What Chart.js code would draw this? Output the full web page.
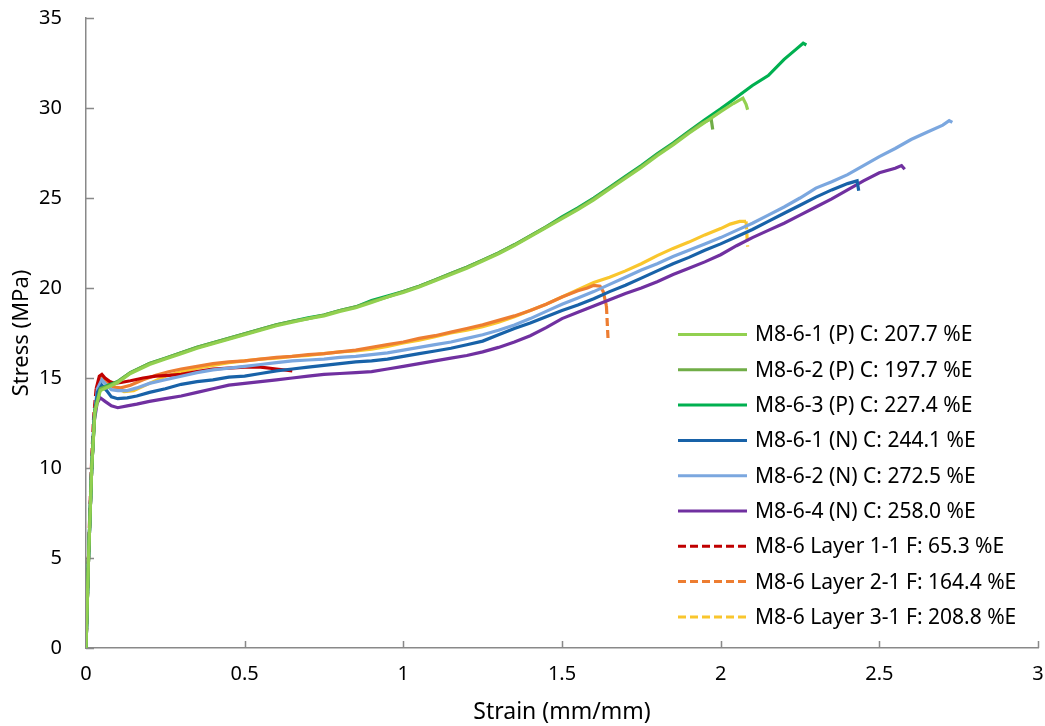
<!DOCTYPE html>
<html>
<head>
<meta charset="utf-8">
<script src="https://cdn.jsdelivr.net/npm/chart.js@4.4.1/dist/chart.umd.min.js"></script>
<style>
  html, body { margin: 0; padding: 0; background: #fff; }
  #chart { display: block; }
</style>
</head>
<body>
<canvas id="chart" width="1045" height="726"></canvas>
<script>
// tick values
const strainTicks = [0, 0.5, 1, 1.5, 2, 2.5, 3];
const stressTicks = [0, 5, 10, 15, 20, 25, 30, 35];

// series labels
const seriesLabels = [
    "M8-6-1 (P) C: 207.7 %E",
    "M8-6-2 (P) C: 197.7 %E",
    "M8-6-3 (P) C: 227.4 %E",
    "M8-6-1 (N) C: 244.1 %E",
    "M8-6-2 (N) C: 272.5 %E",
    "M8-6-4 (N) C: 258.0 %E",
    "M8-6 Layer 1-1 F: 65.3 %E",
    "M8-6 Layer 2-1 F: 164.4 %E",
    "M8-6 Layer 3-1 F: 208.8 %E"
];

// [strain, stress]
const p1 = [[0,0],[0.008,5],[0.018,10],[0.028,13.1],[0.045,14.3],[0.07,14.5],[0.1,14.75],[0.14,15.25],[0.2,15.75],[0.25,16.05],
    [0.3,16.35],[0.35,16.65],[0.4,16.9],[0.45,17.15],[0.5,17.4],[0.55,17.65],[0.6,17.9],[0.65,18.1],[0.7,18.3],[0.75,18.45],
    [0.8,18.7],[0.85,18.9],[0.9,19.2],[0.95,19.5],[1.0,19.75],[1.05,20.05],[1.1,20.4],[1.15,20.75],[1.2,21.1],[1.25,21.5],
    [1.3,21.9],[1.35,22.35],[1.4,22.85],[1.45,23.35],[1.5,23.85],[1.55,24.35],[1.6,24.9],[1.65,25.5],[1.7,26.1],[1.75,26.7],
    [1.8,27.35],[1.85,27.95],[1.9,28.6],[1.95,29.2],[2.0,29.8],[2.04,30.25],[2.07,30.55],[2.08,30.2],[2.085,29.9]];
const p2 = [[0,0],[0.008,5],[0.018,10],[0.028,13.2],[0.045,14.4],[0.07,14.55],[0.1,14.8],[0.14,15.3],[0.2,15.8],[0.25,16.1],
    [0.3,16.4],[0.35,16.7],[0.4,16.95],[0.45,17.2],[0.5,17.45],[0.55,17.7],[0.6,17.95],[0.65,18.15],[0.7,18.3],[0.75,18.5],
    [0.8,18.75],[0.85,18.95],[0.9,19.25],[0.95,19.5],[1.0,19.8],[1.05,20.1],[1.1,20.45],[1.15,20.8],[1.2,21.15],[1.25,21.55],
    [1.3,21.95],[1.35,22.4],[1.4,22.9],[1.45,23.4],[1.5,23.9],[1.55,24.4],[1.6,24.95],[1.65,25.55],[1.7,26.15],[1.75,26.75],
    [1.8,27.4],[1.85,28.0],[1.9,28.65],[1.94,29.15],[1.97,29.4],[1.975,28.8]];
const p3 = [[0,0],[0.008,5],[0.018,10],[0.028,13.2],[0.045,14.4],[0.07,14.6],[0.1,14.8],[0.14,15.3],[0.2,15.8],[0.25,16.1],
    [0.3,16.4],[0.35,16.7],[0.4,16.95],[0.45,17.2],[0.5,17.45],[0.55,17.7],[0.6,17.95],[0.65,18.15],[0.7,18.35],[0.75,18.5],
    [0.8,18.75],[0.85,18.95],[0.9,19.3],[0.95,19.55],[1.0,19.8],[1.05,20.1],[1.1,20.45],[1.15,20.8],[1.2,21.15],[1.25,21.55],
    [1.3,21.95],[1.35,22.4],[1.4,22.9],[1.45,23.4],[1.5,23.95],[1.55,24.45],[1.6,25.0],[1.65,25.6],[1.7,26.2],[1.75,26.8],
    [1.8,27.45],[1.85,28.05],[1.9,28.7],[1.95,29.35],[2.0,29.95],[2.05,30.6],[2.1,31.25],[2.15,31.8],[2.2,32.7],[2.24,33.3],
    [2.26,33.6],[2.27,33.5]];
const n1 = [[0,0],[0.008,5],[0.018,10],[0.026,12.8],[0.036,14.2],[0.05,14.6],[0.065,14.3],[0.08,13.95],[0.1,13.85],[0.13,13.9],
    [0.16,14.0],[0.2,14.2],[0.25,14.4],[0.3,14.65],[0.35,14.8],[0.4,14.9],[0.45,15.05],[0.5,15.1],[0.55,15.25],[0.6,15.4],
    [0.65,15.5],[0.7,15.6],[0.75,15.7],[0.8,15.8],[0.85,15.9],[0.9,15.95],[0.95,16.05],[1.0,16.2],[1.05,16.35],[1.1,16.5],
    [1.15,16.65],[1.2,16.85],[1.25,17.05],[1.3,17.4],[1.35,17.75],[1.4,18.05],[1.45,18.4],[1.5,18.75],[1.55,19.05],[1.6,19.4],
    [1.65,19.8],[1.7,20.15],[1.75,20.55],[1.8,20.95],[1.85,21.35],[1.9,21.7],[1.95,22.1],[2.0,22.45],[2.05,22.85],[2.1,23.25],
    [2.15,23.7],[2.2,24.15],[2.25,24.6],[2.3,25.05],[2.35,25.45],[2.4,25.8],[2.43,25.95],[2.435,25.4]];
const n2 = [[0,0],[0.008,5],[0.018,10],[0.026,12.9],[0.036,14.4],[0.05,14.9],[0.065,14.6],[0.08,14.35],[0.1,14.3],[0.13,14.3],
    [0.16,14.45],[0.2,14.7],[0.25,14.9],[0.3,15.1],[0.35,15.3],[0.4,15.45],[0.45,15.55],[0.5,15.65],[0.55,15.75],[0.6,15.85],
    [0.65,15.95],[0.7,16.0],[0.75,16.05],[0.8,16.15],[0.85,16.2],[0.9,16.3],[0.95,16.4],[1.0,16.55],[1.05,16.7],[1.1,16.85],
    [1.15,17.0],[1.2,17.2],[1.25,17.4],[1.3,17.65],[1.35,17.95],[1.4,18.3],[1.45,18.7],[1.5,19.1],[1.55,19.45],[1.6,19.8],
    [1.65,20.2],[1.7,20.6],[1.75,21.0],[1.8,21.35],[1.85,21.75],[1.9,22.1],[1.95,22.45],[2.0,22.8],[2.05,23.2],[2.1,23.6],
    [2.15,24.05],[2.2,24.5],[2.25,25.0],[2.3,25.55],[2.35,25.9],[2.4,26.3],[2.45,26.8],[2.5,27.3],[2.55,27.75],[2.6,28.25],
    [2.65,28.65],[2.7,29.05],[2.72,29.3],[2.73,29.2]];
const n4 = [[0,0],[0.008,5],[0.018,10],[0.026,12.6],[0.035,13.6],[0.045,13.9],[0.06,13.7],[0.08,13.45],[0.1,13.35],[0.13,13.45],
    [0.16,13.55],[0.2,13.7],[0.25,13.85],[0.3,14.0],[0.35,14.2],[0.4,14.4],[0.45,14.6],[0.5,14.7],[0.55,14.8],[0.6,14.9],
    [0.65,15.0],[0.7,15.1],[0.75,15.2],[0.8,15.25],[0.85,15.3],[0.9,15.35],[0.95,15.5],[1.0,15.65],[1.05,15.8],[1.1,15.95],
    [1.15,16.1],[1.2,16.25],[1.25,16.45],[1.3,16.7],[1.35,17.0],[1.4,17.35],[1.45,17.8],[1.5,18.3],[1.55,18.65],[1.6,19.0],
    [1.65,19.35],[1.7,19.7],[1.75,20.0],[1.8,20.35],[1.85,20.75],[1.9,21.1],[1.95,21.45],[2.0,21.85],[2.05,22.35],[2.1,22.8],
    [2.15,23.2],[2.2,23.6],[2.25,24.05],[2.3,24.5],[2.35,24.95],[2.4,25.45],[2.45,25.95],[2.5,26.4],[2.55,26.65],[2.57,26.8],
    [2.58,26.6]];
const layer1 = [[0,0],[0.006,4],[0.012,7.5],[0.018,10.5],[0.024,12.8],[0.032,14.4],[0.042,15.1],[0.05,15.2],[0.06,15.0],[0.075,14.8],
    [0.09,14.7],[0.11,14.75],[0.14,14.85],[0.18,15.0],[0.22,15.1],[0.26,15.15],[0.3,15.2],[0.35,15.35],[0.4,15.5],[0.45,15.55],
    [0.5,15.6],[0.55,15.6],[0.6,15.5],[0.65,15.4]];
const layer2 = [[0,0],[0.008,5],[0.018,10],[0.026,12.9],[0.036,14.5],[0.05,15.0],[0.065,14.8],[0.085,14.5],[0.11,14.45],[0.14,14.6],
    [0.18,14.9],[0.22,15.15],[0.26,15.35],[0.3,15.5],[0.35,15.65],[0.4,15.8],[0.45,15.9],[0.5,15.95],[0.55,16.05],[0.6,16.15],
    [0.65,16.2],[0.7,16.3],[0.75,16.35],[0.8,16.45],[0.85,16.55],[0.9,16.7],[0.95,16.85],[1.0,17.0],[1.05,17.2],[1.1,17.35],
    [1.15,17.55],[1.2,17.75],[1.25,17.95],[1.3,18.2],[1.35,18.45],[1.4,18.75],[1.45,19.1],[1.5,19.5],[1.55,19.85],[1.58,20.0],
    [1.6,20.15],[1.62,20.1],[1.63,19.8],[1.64,19.0],[1.645,17.2]];
const layer3 = [[0,0],[0.008,5],[0.018,10],[0.026,12.9],[0.036,14.5],[0.055,15.0],[0.07,14.85],[0.09,14.5],[0.12,14.25],[0.15,14.3],
    [0.2,14.7],[0.25,15.1],[0.3,15.35],[0.35,15.55],[0.4,15.7],[0.45,15.85],[0.5,15.95],[0.55,16.05],[0.6,16.1],[0.65,16.2],
    [0.7,16.25],[0.75,16.35],[0.8,16.45],[0.85,16.5],[0.9,16.6],[0.95,16.75],[1.0,16.95],[1.05,17.1],[1.1,17.3],[1.15,17.5],
    [1.2,17.65],[1.25,17.85],[1.3,18.1],[1.35,18.4],[1.4,18.75],[1.45,19.1],[1.5,19.5],[1.55,19.9],[1.6,20.3],[1.65,20.6],
    [1.7,20.95],[1.75,21.35],[1.8,21.8],[1.85,22.2],[1.9,22.55],[1.95,22.95],[2.0,23.3],[2.03,23.55],[2.06,23.7],[2.08,23.7],
    [2.085,22.3]];

const seriesData = [p1, p2, p3, n1, n2, n4, layer1, layer2, layer3];
const seriesColors = ["#92D050", "#70AD47", "#00B050", "#1862A8", "#7BA7DF", "#7030A0", "#C00000", "#ED7D31", "#F9C62D"];
const dashed = [false, false, false, false, false, false, true, true, true];

const FONT = "'Noto Sans', 'DejaVu Sans', sans-serif";
const DASH = [8, 4];

// excel restarts the dash on every segment, so short segments look solid
const segmentDash = (isDashed) => (ctx) => {
    if (!isDashed) return undefined;
    const dx = ctx.p1.x - ctx.p0.x, dy = ctx.p1.y - ctx.p0.y;
    return Math.hypot(dx, dy) > 22 ? DASH : [];
};

const datasets = seriesData.map((pts, i) => ({
    label: seriesLabels[i],
    data: pts.map(p => ({x: p[0], y: p[1]})),
    borderColor: seriesColors[i],
    backgroundColor: seriesColors[i],
    borderWidth: 3.2,
    pointRadius: 0,
    showLine: true,
    tension: 0,
    isDashed: dashed[i],
    segment: {borderDash: segmentDash(dashed[i])},
}));

// tick marks point into the plot
const innerTicks = {
    id: "innerTicks",
    beforeDatasetsDraw(chart) {
        const {ctx, chartArea, scales} = chart;
        ctx.save();
        ctx.strokeStyle = "#898989";
        ctx.lineWidth = 1.5;
        ctx.beginPath();
        scales.x.ticks.forEach(t => {
            const px = Math.round(scales.x.getPixelForValue(t.value)) + 0.5;
            ctx.moveTo(px, chartArea.bottom);
            ctx.lineTo(px, chartArea.bottom - 7);
        });
        scales.y.ticks.forEach(t => {
            const py = Math.round(scales.y.getPixelForValue(t.value)) + 0.5;
            ctx.moveTo(chartArea.left, py);
            ctx.lineTo(chartArea.left + 8, py);
        });
        ctx.stroke();
        ctx.restore();
    }
};

const boxLegend = {
    id: "boxLegend",
    afterDatasetsDraw(chart) {
        const ctx = chart.ctx;
        const x0 = 678, x1 = 747, top = 334.5, step = 35.3;
        ctx.save();
        ctx.font = "21px " + FONT;
        ctx.textBaseline = "middle";
        chart.data.datasets.forEach((ds, i) => {
            const y = top + i * step;
            ctx.strokeStyle = ds.borderColor;
            ctx.lineWidth = 3;
            ctx.setLineDash(ds.isDashed ? DASH : []);
            ctx.beginPath();
            ctx.moveTo(x0, y);
            ctx.lineTo(x1, y);
            ctx.stroke();
            ctx.setLineDash([]);
            ctx.fillStyle = "#000";
            ctx.fillText(ds.label, 755, y + 1);
        });
        ctx.restore();
    }
};

new Chart(document.getElementById("chart"), {
    type: "scatter",
    data: {datasets},
    options: {
        responsive: false,
        animation: false,
        layout: {padding: {top: 18, right: 7, bottom: 0, left: 0}},
        plugins: {
            legend: {display: false},
            tooltip: {enabled: false},
        },
        scales: {
            x: {
                type: "linear",
                min: 0,
                max: 3,
                afterBuildTicks: s => { s.ticks = strainTicks.map(v => ({value: v})); },
                afterFit: s => { s.height = 78; s.paddingLeft = 0; s.paddingRight = 0; },
                grid: {display: false, drawTicks: false},
                border: {display: true, color: "#898989", width: 1.5},
                ticks: {color: "#000", font: {family: FONT, size: 20}, padding: 14, maxRotation: 0,
                    callback: v => String(v)},
                title: {display: true, text: "Strain (mm/mm)", color: "#000",
                    font: {family: FONT, size: 23}, padding: {top: 0, bottom: 0}},
            },
            y: {
                type: "linear",
                min: 0,
                max: 35,
                afterBuildTicks: s => { s.ticks = stressTicks.map(v => ({value: v})); },
                afterFit: s => { s.width = 86; s.paddingTop = 0; s.paddingBottom = 0; },
                grid: {display: false, drawTicks: false},
                border: {display: true, color: "#898989", width: 1.5},
                ticks: {color: "#000", font: {family: FONT, size: 20}, padding: 24,
                    callback: v => String(v)},
                title: {display: true, text: "Stress (MPa)", color: "#000",
                    font: {family: FONT, size: 22}, padding: {top: 9, bottom: 0}},
            },
        },
    },
    plugins: [innerTicks, boxLegend],
});
</script>
</body>
</html>
